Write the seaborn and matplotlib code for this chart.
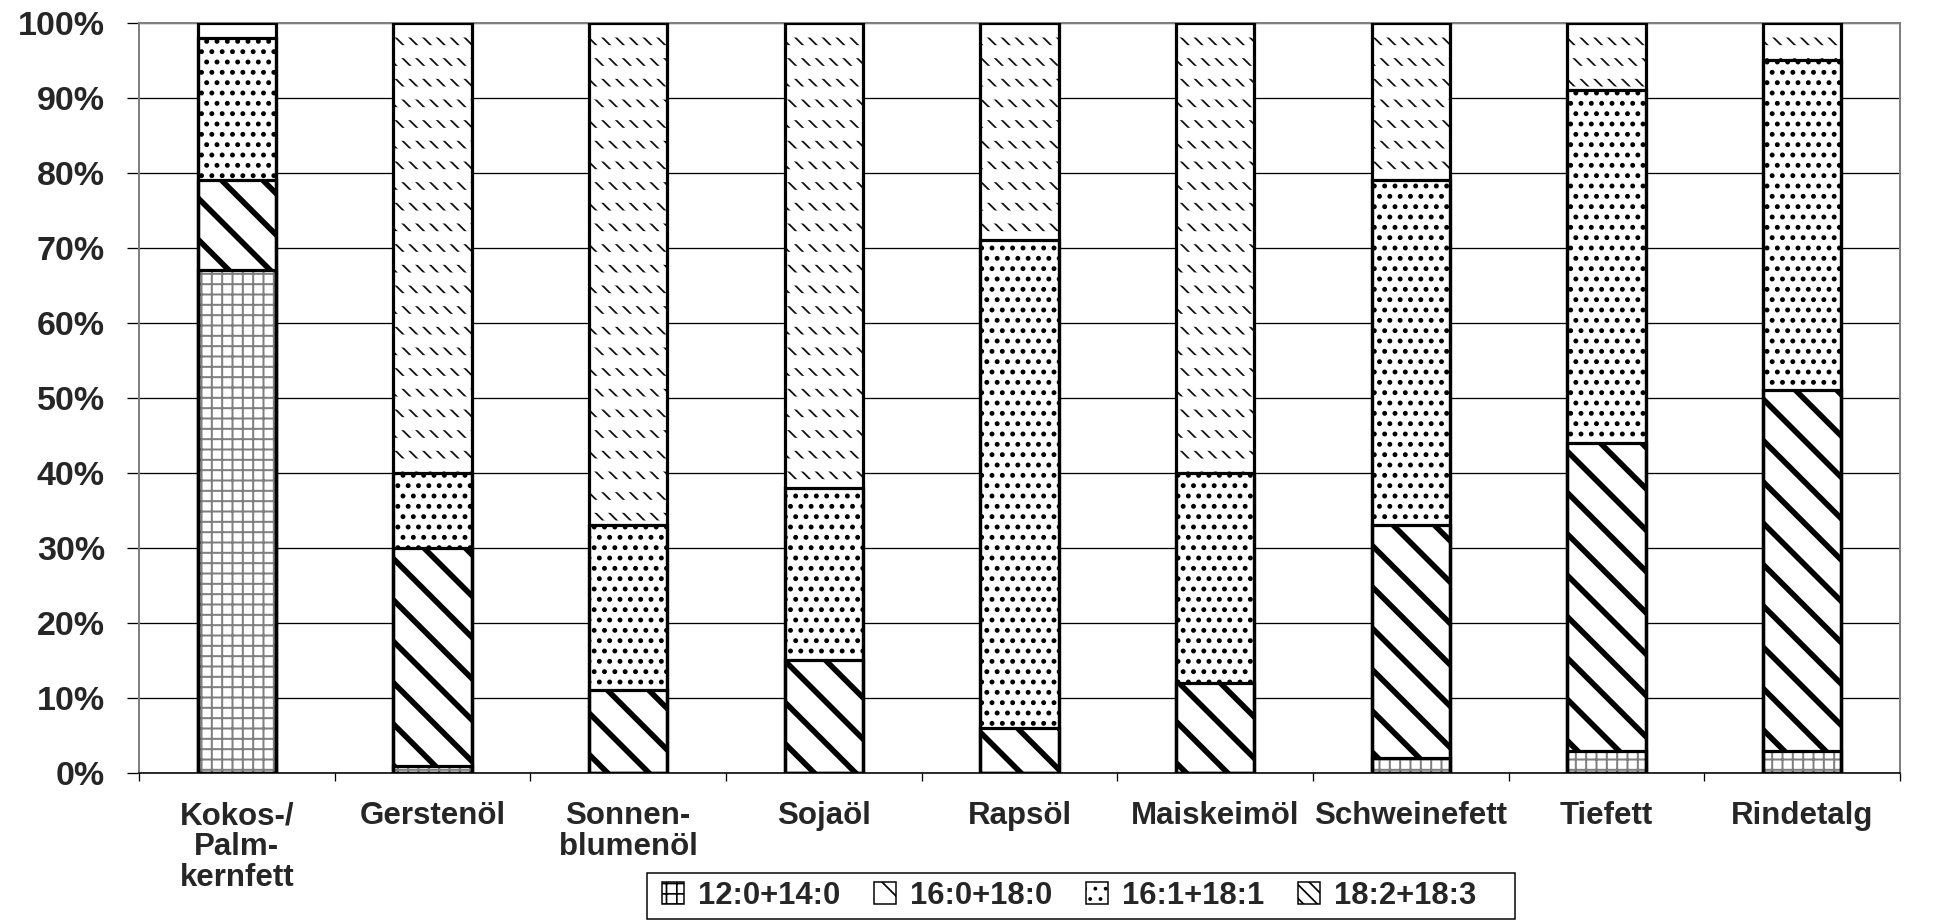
import numpy as np
import matplotlib
matplotlib.use("Agg")
import matplotlib.pyplot as plt
from matplotlib.patches import Patch, Rectangle
from matplotlib.font_manager import FontProperties
import seaborn as sns

# ---- data (percent of fatty acid groups) ----
categories = ["Kokos-/\nPalm-\nkernfett", "Gerstenöl", "Sonnen-\nblumenöl", "Sojaöl", "Rapsöl",
              "Maiskeimöl", "Schweinefett", "Tiefett", "Rindetalg"]
series_names = ["12:0+14:0", "16:0+18:0", "16:1+18:1", "18:2+18:3"]
fa_12_14 = [67, 1, 0, 0, 0, 0, 2, 3, 3]
fa_16_18 = [12, 29, 11, 15, 6, 12, 31, 41, 48]
fa_16_18_unsat = [19, 10, 22, 23, 65, 28, 46, 47, 44]
fa_18_poly = [2, 60, 67, 62, 29, 60, 21, 9, 5]
y_ticks = list(range(0, 101, 10))

# dpi chosen so that the hatch spacing matches the original pattern size
DPI = 124


def pt(px):
    return px * 72 / DPI


sns.set_style("white")
plt.rcParams["font.family"] = ["Liberation Sans", "DejaVu Sans"]
plt.rcParams["font.weight"] = "bold"

# hatch, hatch colour, hatch linewidth (pt) for each series
styles = [("++", "#7f7f7f", pt(2.0)),
          ("\\", "black", pt(5.6)),
          ("..", "black", pt(2.8)),
          ("\\\\\\", "#111111", pt(1.8))]

fig = plt.figure(figsize=(1933 / DPI, 922 / DPI), dpi=DPI)
ax = fig.add_axes([0.0719, 0.1616, 0.911, 0.8135])

layers = np.cumsum([fa_12_14, fa_16_18, fa_16_18_unsat, fa_18_poly], axis=0)


def hatched_layer(y, hatch, hcol, hlw, face="white"):
    n0 = len(ax.patches)
    with plt.rc_context({"hatch.linewidth": hlw, "hatch.color": hcol}):
        sns.barplot(x=categories, y=y, color="white", edgecolor=hcol, linewidth=0,
                    hatch=hatch, width=0.4, saturation=1, errorbar=None, ax=ax)
    for p in ax.patches[n0:]:
        if hasattr(p, "set_hatch_linewidth"):
            p.set_hatch_linewidth(hlw)
        p.set_facecolor(face)
        p.set_zorder(2)


# stacked bars drawn as overlapping cumulative bars, tallest first
for i in reversed(range(4)):
    hatch, hcol, hlw = styles[i]
    hatched_layer(layers[i], hatch, hcol, hlw)
    if i == 3:
        # break the fine diagonals into rows of short dashes
        hatched_layer(layers[i], "-", "white", pt(13), face="none")

# black segment outlines
for i in range(4):
    n0 = len(ax.patches)
    sns.barplot(x=categories, y=layers[i], fill=False, color="black", edgecolor="black",
                linewidth=pt(3.2), width=0.4, errorbar=None, ax=ax)
    for p in ax.patches[n0:]:
        p.set_facecolor("none")
        p.set_zorder(3)

ax.set_ylim(0, 100)
ax.set_xlim(-0.5, 8.5)
ax.set_yticks(y_ticks)
ax.set_yticklabels([f"{v}%" for v in y_ticks], fontsize=pt(34), fontweight="bold")
ax.yaxis.grid(True, color="black", linewidth=pt(1.3))
ax.set_axisbelow(True)
ax.tick_params(axis="y", direction="out", length=pt(12), width=pt(1.3), color="black",
               pad=pt(22), left=True)

# category boundaries as ticks, names centred between them
ax.set_xticks(np.arange(-0.5, 9.0, 1.0))
ax.set_xticklabels([])
ax.set_xticks(np.arange(9), minor=True)
ax.set_xticklabels(categories, minor=True, fontsize=pt(31.3), fontweight="bold",
                   linespacing=1.05, va="top")
ax.tick_params(axis="x", which="major", direction="out", length=pt(8), width=pt(1.3),
               color="black", bottom=True)
ax.tick_params(axis="x", which="minor", length=0, pad=pt(28))
ax.set_xlabel("")
ax.set_ylabel("")

for side in ["left", "top", "right"]:
    ax.spines[side].set_color("#808080")
    ax.spines[side].set_linewidth(pt(2))
ax.spines["bottom"].set_color("black")
ax.spines["bottom"].set_linewidth(pt(1.6))

handles = []
for hatch, hcol, hlw in styles:
    handles.append(Patch(facecolor="white", edgecolor="black", hatch=hatch, linewidth=pt(1.5)))
leg_font = FontProperties(family=["Liberation Sans", "DejaVu Sans"], weight="bold", size=pt(31))
leg = fig.legend(handles, series_names, loc="center", bbox_to_anchor=(1069 / 1933, 0.028), ncol=4,
                 frameon=False, prop=leg_font,
                 handlelength=0.7, handleheight=0.7, handletextpad=0.45, columnspacing=1.1,
                 borderpad=0.2)
fig.patches.append(Rectangle((647 / 1933, 3 / 922), 868 / 1933, 46 / 922,
                             transform=fig.transFigure, facecolor="none",
                             edgecolor="black", linewidth=pt(1.5)))

fig.savefig("out.png", dpi=DPI)
